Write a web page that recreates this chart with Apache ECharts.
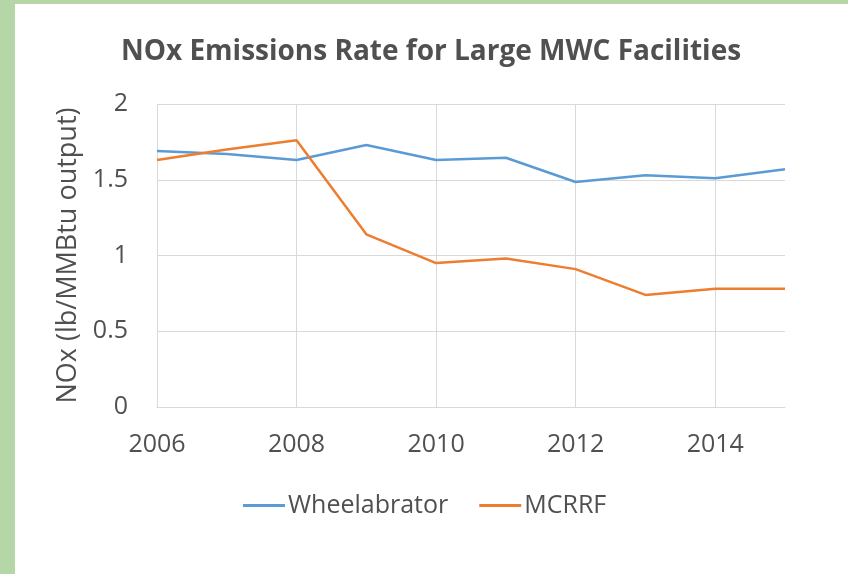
<!DOCTYPE html>
<html lang="en">
<head>
    <meta charset="UTF-8">
    <title>NOx Emissions Rate</title>
    <script src="https://cdn.jsdelivr.net/npm/echarts@6/dist/echarts.min.js"></script>
    <style>
        html, body { margin: 0; padding: 0; background: #b5d7a8; }
        .frame {
            position: absolute;
            left: 15px; top: 4px;
            width: 833px; height: 570px;
            background: #fff;
        }
        #chart { width: 848px; height: 574px; position: absolute; left: 0; top: 0; }
    </style>
</head>
<body>
    <div class="frame"></div>
    <div id="chart"></div>
    <script>
        var years = ['2006', '2007', '2008', '2009', '2010', '2011', '2012', '2013', '2014', '2015']
        var wheelabrator = [1.69, 1.67, 1.63, 1.73, 1.63, 1.645, 1.485, 1.53, 1.51, 1.57]
        var mcrrf = [1.63, 1.70, 1.76, 1.14, 0.95, 0.98, 0.91, 0.74, 0.78, 0.78]

        var chart = echarts.init(document.getElementById('chart'))
        var textColor = '#505050'
        var font = 'Open Sans'
        var option = {
            backgroundColor: 'transparent',
            title: {
                text: 'NOx Emissions Rate for Large MWC Facilities',
                left: 426,
                textAlign: 'center',
                top: 33,
                textStyle: { fontFamily: font, fontSize: 28, fontWeight: 'bold', color: textColor }
            },
            legend: {
                top: 493,
                left: 243,
                padding: 0,
                itemWidth: 42,
                itemHeight: 3,
                itemGap: 31,
                icon: 'rect',
                textStyle: { fontFamily: font, fontSize: 25, color: textColor, padding: [0, 0, 0, -2] },
                data: ['Wheelabrator', 'MCRRF']
            },
            grid: { left: 157, right: 63, top: 104, bottom: 167 },
            xAxis: {
                type: 'category',
                data: years,
                boundaryGap: false,
                axisLine: { show: true, lineStyle: { color: '#d9d9d9' } },
                axisTick: { show: false },
                axisLabel: {
                    interval: 1, margin: 25,
                    fontFamily: font, fontSize: 25, color: textColor
                },
                splitLine: { show: true, interval: 1, lineStyle: { color: '#d9d9d9' } }
            },
            yAxis: {
                type: 'value',
                min: 0, max: 2, interval: 0.5,
                name: 'NOx (lb/MMBtu output)',
                nameLocation: 'middle',
                nameGap: 73,
                nameTextStyle: { fontFamily: font, fontSize: 27, color: textColor },
                axisLine: { show: false },
                axisTick: { show: false },
                axisLabel: { margin: 29, fontFamily: font, fontSize: 25, color: textColor },
                splitLine: { lineStyle: { color: '#d9d9d9' } }
            },
            series: [
                {
                    name: 'Wheelabrator',
                    type: 'line',
                    data: wheelabrator,
                    symbol: 'none',
                    color: '#5b9bd5',
                    lineStyle: { width: 2.5 }
                },
                {
                    name: 'MCRRF',
                    type: 'line',
                    data: mcrrf,
                    symbol: 'none',
                    color: '#ed7d31',
                    lineStyle: { width: 2.5 }
                }
            ]
        }
        chart.setOption(option)
    </script>
</body>
</html>
